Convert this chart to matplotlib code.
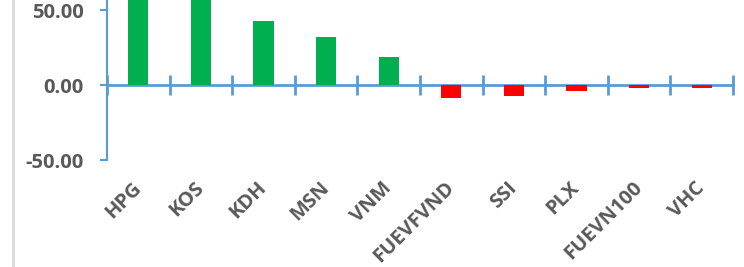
import numpy as np
import matplotlib.pyplot as plt
import matplotlib.transforms as mtransforms
from matplotlib.lines import Line2D

# Data (HPG and KOS run past the top of the picture)
tickers = ['HPG', 'KOS', 'KDH', 'MSN', 'VNM', 'FUEVFVND', 'SSI', 'PLX', 'FUEVN100', 'VHC']
values = [85.0, 75.0, 42.7, 32.0, 18.5, -8.4, -7.1, -3.8, -1.7, -1.7]
yticks = [-50, 0, 50]

plt.rcParams['font.family'] = ['Open Sans', 'DejaVu Sans']

axis_blue = '#5B9BD5'
label_grey = '#595959'

fig = plt.figure(figsize=(7.44, 2.67), dpi=100)
ax = fig.add_axes([107 / 744, 1 - 160 / 267, 626 / 744, 160 / 267])

x = np.arange(len(tickers))
colors = ['#00B050' if v >= 0 else '#FF0000' for v in values]
ax.bar(x, values, width=0.32, color=colors, zorder=2)

ax.set_xlim(-0.5, len(tickers) - 0.5)
ax.set_ylim(-50, 56.67)

# y axis
ax.set_yticks(yticks)
ax.set_yticklabels([f'{t:.2f}' for t in yticks])
ax.spines['left'].set_color(axis_blue)
ax.spines['left'].set_linewidth(1.5)
ax.tick_params(axis='y', direction='out', length=5, width=1.5, color=axis_blue,
               labelsize=14.5, labelcolor=label_grey, pad=12)
for lab in ax.get_yticklabels():
    lab.set_fontweight('bold')

# x axis at zero with boundary ticks, labels pushed to the bottom
ax.spines['bottom'].set_position(('data', 0))
ax.spines['bottom'].set_color(axis_blue)
ax.spines['bottom'].set_linewidth(2)
ax.spines['bottom'].set_zorder(1)
ax.set_xticks(x)
ax.set_xticklabels(tickers, rotation=45, ha='right', rotation_mode='anchor')
ax.tick_params(axis='x', which='major', length=0, labelsize=14.5,
               labelcolor=label_grey, pad=67)
ax.set_xticks(np.arange(len(tickers) + 1) - 0.5, minor=True)
ax.tick_params(axis='x', which='minor', direction='inout', length=15, width=2,
               color=axis_blue)
shift = mtransforms.ScaledTranslation(-7 / 100, 0, fig.dpi_scale_trans)
for lab in ax.get_xticklabels():
    lab.set_fontweight('bold')
    lab.set_transform(lab.get_transform() + shift)

ax.spines['top'].set_visible(False)
ax.spines['right'].set_visible(False)

# light border line at the left of the chart area
fig.add_artist(Line2D([13 / 744, 13 / 744], [0, 1], color='#D9D9D9', lw=2,
                      transform=fig.transFigure))

fig.savefig('out.png', dpi=100)
